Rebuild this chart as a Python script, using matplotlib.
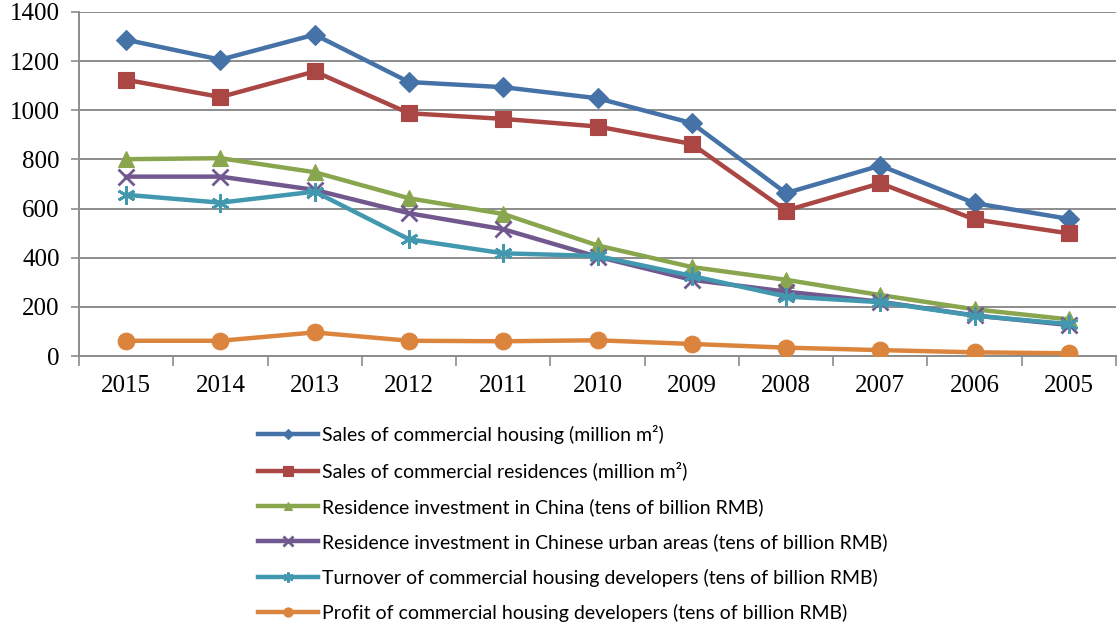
import numpy as np
import matplotlib
matplotlib.use("Agg")
import matplotlib.pyplot as plt
from matplotlib.ticker import FixedLocator, NullFormatter

# Years (most recent first, as in the statistics yearbook table)
years = ['2015', '2014', '2013', '2012', '2011', '2010', '2009', '2008', '2007', '2006', '2005']

# Series values
sales_housing = [1287, 1206, 1308, 1115, 1094, 1049, 948, 663, 775, 622, 558]
sales_residences = [1124, 1054, 1158, 988, 965, 934, 863, 592, 703, 556, 499]
resid_invest_china = [801, 805, 748, 642, 578, 450, 362, 310, 248, 190, 149]
resid_invest_urban = [730, 730, 676, 581, 516, 404, 310, 262, 221, 165, 126]
turnover_developers = [656, 624, 669, 475, 418, 407, 326, 242, 219, 164, 130]
profit_developers = [62, 62, 96, 62, 60, 64, 49, 34, 24, 15, 11]

labels = ['Sales of commercial housing (million m²)',
          'Sales of commercial residences (million m²)',
          'Residence investment in China (tens of billion RMB)',
          'Residence investment in Chinese urban areas (tens of billion RMB)',
          'Turnover of commercial housing developers (tens of billion RMB)',
          'Profit of commercial housing developers (tens of billion RMB)']

series = [sales_housing, sales_residences, resid_invest_china,
          resid_invest_urban, turnover_developers, profit_developers]
colors = ['#4572A7', '#AA4643', '#89A54E', '#71588F', '#4198AF', '#DB843D']
markers = ['D', 's', '^', 'x', (6, 2, 0), 'o']
msizes = [10, 12, 11, 12, 13, 12]

fig = plt.figure(figsize=(11.18, 6.22), dpi=100)
ax = fig.add_axes([79/1118, 1 - 356/622, (1116 - 79)/1118, (356 - 12)/622])

x = np.arange(len(years))
handles = []
for vals, lab, c, m, ms in zip(series, labels, colors, markers, msizes):
    ln, = ax.plot(x, vals, color=c, lw=3.2, marker=m, markersize=ms,
                  markeredgecolor=c, markeredgewidth=2.0 if m in ('x', (6, 2, 0)) else 0.8,
                  label=lab, zorder=3)
    handles.append(ln)

ax.set_xlim(-0.5, len(years) - 0.5)
ax.set_ylim(0, 1400)
ax.set_yticks(np.arange(0, 1401, 200))
ax.yaxis.grid(True, color='#8C8C8C', lw=1.4)
ax.set_axisbelow(True)

# category boundaries carry the tick marks, labels sit in the middle
ax.xaxis.set_major_locator(FixedLocator(np.arange(-0.5, len(years), 1.0)))
ax.xaxis.set_major_formatter(NullFormatter())
ax.xaxis.set_minor_locator(FixedLocator(x))
ax.set_xticklabels(years, minor=True)
ax.tick_params(axis='x', which='major', length=7, width=1.2, color='#8C8C8C', direction='out')
ax.tick_params(axis='x', which='minor', length=0, pad=14)
ax.tick_params(axis='y', length=6, width=1.2, color='#8C8C8C', pad=8)

for lbl in ax.get_xticklabels(minor=True) + ax.get_yticklabels():
    lbl.set_fontfamily('Liberation Serif')
    lbl.set_fontsize(18)

for side in ['top', 'right']:
    ax.spines[side].set_visible(False)
for side in ['left', 'bottom']:
    ax.spines[side].set_color('#8C8C8C')
    ax.spines[side].set_linewidth(1.4)

leg = fig.legend(handles=handles, loc='upper left',
                 bbox_to_anchor=(258/1118, 1 - 425/622),
                 frameon=False, numpoints=1, markerscale=0.55,
                 handlelength=3.1, handletextpad=0.2, labelspacing=0.9,
                 borderpad=0, borderaxespad=0,
                 prop={'family': 'Lato', 'size': 14})

fig.savefig('out.png', dpi=100)
